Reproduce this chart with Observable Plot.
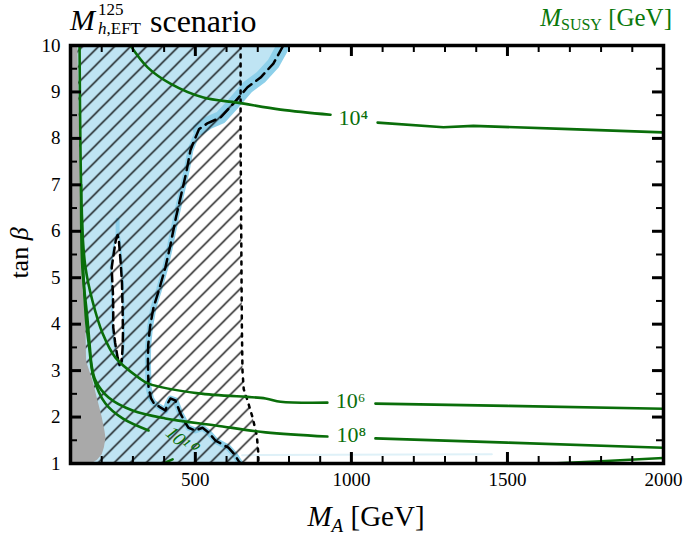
<!DOCTYPE html>
<html><head><meta charset="utf-8">
<script src="https://cdn.jsdelivr.net/npm/d3@7"></script>
<script src="https://cdn.jsdelivr.net/npm/@observablehq/plot@0.6"></script>
<style>
body{margin:0;background:#fff;}
#wrap{position:relative;width:685px;height:544px;font-family:"Liberation Serif",serif;color:#000;}
.ov{position:absolute;white-space:nowrap;line-height:1;}
</style>
</head><body>
<div id="wrap">
<div class="ov" style="left:70px;top:5px;font-size:30px;"><i>M</i></div>
<div class="ov" style="left:98px;top:1px;font-size:17px;">125</div>
<div class="ov" style="left:98px;top:20px;font-size:17px;"><i>h</i>,EFT</div>
<div class="ov" style="left:150px;top:5px;font-size:32px;">scenario</div>
<div class="ov" style="right:13px;top:5px;font-size:25px;color:#0a780a;"><i>M</i><span style="font-size:16px;vertical-align:-4px;">SUSY</span> [GeV]</div>
<div class="ov" style="left:366px;top:502px;font-size:29px;transform:translateX(-50%);"><i>M</i><span style="font-size:19px;vertical-align:-6px;"><i>A</i></span> [GeV]</div>
<div class="ov" style="left:-20px;top:240px;font-size:26px;transform:rotate(-90deg);transform-origin:center;width:80px;text-align:center;">tan <i>β</i></div>
</div>
<script>
// ---- data ----
const xDomain = [100, 2000];
const yDomain = [1, 10];
const xMajor = [500, 1000, 1500];
const xMinor = [200,300,400,600,700,800,900,1100,1200,1300,1400,1600,1700,1800,1900];
const xLabels = [500, 1000, 1500, 2000];
const yMajor = [2,3,4,5,6,7,8,9];
const yMinor = [1.5,2.5,3.5,4.5,5.5,6.5,7.5,8.5,9.5];
const yLabels = [1,2,3,4,5,6,7,8,9,10];

const grayRegion = [[100,1],[100,10],[122,10],[128,8],[136,6.3],[142,5],[148,3.9],[150,3.2],[170,2.8],[185,2.4],[200,2.0],[209,1.7],[212,1.55],[207,1.35],[200,1.2],[185,1.08],[165,1]];

const dashedMain = [[782,10],[750,9.61],[709,9.31],[667,9.10],[622,8.75],[581,8.45],[540,8.33],[512,8.2],[496,7.95],[484,7.74],[472,7.3],[455,6.8],[438,6.3],[420,5.7],[404,5.22],[384,4.75],[366,4.36],[355,3.95],[349,3.55],[348,3.2],[350,2.64],[358,2.40],[366,2.31],[385,2.22],[404,2.14],[412,2.3],[420,2.40],[436,2.36],[452,2.08],[466,1.9],[478,1.77],[500,1.71],[523,1.77],[542,1.67],[565,1.49],[590,1.4],[606,1.34],[625,1.2],[638,1.06],[645,1]];

const slitRegion = [[251,5.92],[245,5.80],[238,5.5],[232,5.22],[234,4.9],[236,4.66],[237,4.3],[237,3.93],[243,3.6],[251,3.28],[257,3.12],[264,3.2],[267,3.5],[268,3.80],[267,4.3],[265,4.88],[261,5.3],[255,5.80],[251,5.92]];
const blueSpike = [[251,5.9],[251,6.25]];

const dottedLine = [[645,10],[645,8],[647,6],[649,4],[651,3.0],[655,2.6],[667,2.36],[683,2.0],[697,1.6],[702,1.2],[702,1]];
const faintBlue = [[650,1.18],[1450,1.2]];

const c4a = [[292,10],[347,9.53],[420,9.18],[526,8.88],[635,8.77],[773,8.62],[933,8.51]];
const c4b = [[1084,8.34],[1295,8.24],[1391,8.27],[1700,8.2],[2000,8.13]];
const c6a = [[129,10],[132,7.74],[138,6.02],[148,5.22],[170,4.51],[203,3.80],[244,3.28],[318,2.85],[350,2.72],[510,2.51],[725,2.40],[773,2.33],[923,2.31]];
const c6b = [[1077,2.29],[1500,2.24],[2000,2.18]];
const c8a = [[134,7],[138,5.22],[154,4.14],[162,3.5],[168,3.1],[180,2.79],[222,2.42],[299,2.14],[404,1.97],[565,1.82],[725,1.67],[923,1.58]];
const c8b = [[1077,1.54],[1500,1.45],[2000,1.34]];
const c10a = [[136,6.5],[142,5.0],[151,4.0],[160,3.5],[174,2.85],[212,2.29],[267,1.97],[350,1.71]];
const c10b = [[398,1.0],[427,1.09]];
const cLow = [[1640,1],[1800,1.05],[2000,1.12]];

const contourLabels = [
  {x: 1006, y: 8.43, t: "10⁴", s: "italic"},
  {x: 997, y: 2.34, t: "10⁶", s: "normal"},
  {x: 1000, y: 1.61, t: "10⁸", s: "normal"}
];
const rotLabel = [{x: 452, y: 1.5, t: "10¹⁰"}];

// ---- styles ----
const green = "#0a6e0a";
const lightBlue = "#bfe4f3";
const bandBlue = "#8dd0ea";
const serif = "Liberation Serif";
const X = d => d[0], Y = d => d[1];
const W = 685, H = 544, mL = 70, mR = 22, mT = 45, mB = 81;
const fw = W - mL - mR, fh = H - mT - mB;
const ux = (xDomain[1] - xDomain[0]) / fw, uy = (yDomain[1] - yDomain[0]) / fh;

const hatchRegion = [[100,1],[100,10], ...dottedLine];
const blueRegion = [[100,1],[100,10], ...dashedMain];

const ticksX = (vals, len, sw) => [
  Plot.ruleX(vals, {x: d => d, y1: yDomain[0], y2: yDomain[0] + len * uy, stroke: "#000", strokeWidth: sw}),
  Plot.ruleX(vals, {x: d => d, y1: yDomain[1], y2: yDomain[1] - len * uy, stroke: "#000", strokeWidth: sw})
];
const ticksY = (vals, len, sw) => [
  Plot.ruleY(vals, {y: d => d, x1: xDomain[0], x2: xDomain[0] + len * ux, stroke: "#000", strokeWidth: sw}),
  Plot.ruleY(vals, {y: d => d, x1: xDomain[1], x2: xDomain[1] - len * ux, stroke: "#000", strokeWidth: sw})
];

const chart = Plot.plot({
  width: W, height: H,
  marginLeft: mL, marginRight: mR, marginTop: mT, marginBottom: mB,
  x: {domain: xDomain},
  y: {domain: yDomain},
  style: {fontFamily: serif, fontSize: "18px", background: "transparent", overflow: "visible"},
  marks: [
    Plot.line(blueRegion, {x: X, y: Y, fill: lightBlue, stroke: "none", clip: true}),
    Plot.line(dashedMain, {x: X, y: Y, stroke: bandBlue, strokeWidth: 6, clip: true}),
    Plot.line(dashedMain.filter(d => d[1] >= 8.2), {x: X, y: Y, stroke: bandBlue, strokeWidth: 13, strokeLinecap: "round", clip: true}),
    Plot.line(slitRegion, {x: X, y: Y, fill: "white", stroke: bandBlue, strokeWidth: 4, clip: true}),
    Plot.line(slitRegion, {x: X, y: Y, fill: "white", stroke: "none", clip: true}),
    Plot.line(blueSpike, {x: X, y: Y, stroke: bandBlue, strokeWidth: 4, clip: true}),
    Plot.line(faintBlue, {x: X, y: Y, stroke: "#dff1f8", strokeWidth: 2, clip: true}),
    Plot.line(hatchRegion, {x: X, y: Y, fill: "url(#hatch)", stroke: "none", clip: true}),
    Plot.line(grayRegion, {x: X, y: Y, fill: "#a9a9a9", stroke: "none", clip: true}),
    Plot.line(dashedMain, {x: X, y: Y, stroke: "black", strokeWidth: 2.5, strokeDasharray: "11,6", clip: true}),
    Plot.line(slitRegion, {x: X, y: Y, stroke: "black", strokeWidth: 2.5, strokeDasharray: "8,5", clip: true}),
    Plot.line(dottedLine, {x: X, y: Y, stroke: "black", strokeWidth: 2.5, strokeDasharray: "3,6", clip: true}),
    ...[c4a, c6a, c8a, c10a].map(c =>
      Plot.line(c, {x: X, y: Y, stroke: green, strokeWidth: 2.6, curve: "catmull-rom", clip: true})),
    ...[c4b, c6b, c8b, c10b, cLow].map(c =>
      Plot.line(c, {x: X, y: Y, stroke: green, strokeWidth: 2.6, clip: true})),
    Plot.text(contourLabels, {x: "x", y: "y", text: "t", fontStyle: d => d.s, fill: green, fontSize: 22, fontFamily: serif}),
    Plot.text(rotLabel, {x: "x", y: "y", text: "t", fill: green, fontSize: 19, fontStyle: "italic", rotate: 42, fontFamily: serif}),
    ...ticksX(xMajor, 11, 3),
    ...ticksX(xMinor, 7, 2),
    ...ticksY(yMajor, 11, 3),
    ...ticksY(yMinor, 7, 2),
    Plot.axisX(xLabels, {anchor: "bottom", tickSize: 0, tickPadding: 9, fontSize: 19, fontFamily: serif, label: null, tickFormat: d => String(d)}),
    Plot.axisY(yLabels, {anchor: "left", tickSize: 0, tickPadding: 10, fontSize: 19, fontFamily: serif, label: null, tickFormat: d => String(d)}),
    Plot.frame({stroke: "black", strokeWidth: 3.5})
  ]
});

const ns = "http://www.w3.org/2000/svg";
const defs = document.createElementNS(ns, "defs");
defs.innerHTML = '<pattern id="hatch" patternUnits="userSpaceOnUse" width="16" height="16"><path d="M-2,2 L2,-2 M0,16 L16,0 M14,18 L18,14" stroke="black" stroke-width="1.3"/></pattern>';
chart.insertBefore(defs, chart.firstChild);
chart.style.position = "absolute";
chart.style.left = "0px";
chart.style.top = "0px";
document.getElementById("wrap").prepend(chart);
</script>
</body></html>
